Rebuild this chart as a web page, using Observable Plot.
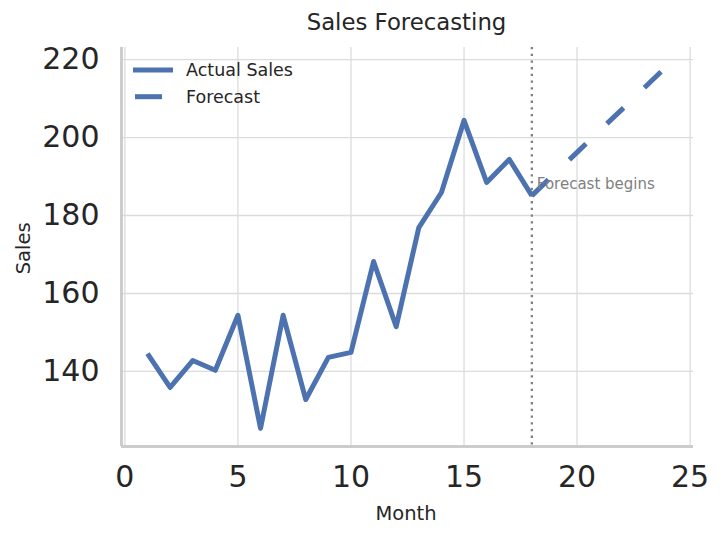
<!DOCTYPE html>
<html><head><meta charset="utf-8">
<script src="https://cdn.jsdelivr.net/npm/d3@7"></script>
<script src="https://cdn.jsdelivr.net/npm/@observablehq/plot@0.6"></script>
<style>
body{margin:0;background:#fff;}
#chart svg{font-family:"DejaVu Sans",sans-serif;display:block;}
</style>
</head><body><div id="chart"></div>
<script>
// ---- data ----
const months = [1,2,3,4,5,6,7,8,9,10,11,12,13,14,15,16,17,18];
const actualSales = [144.6,135.9,142.8,140.3,154.4,125.4,154.4,132.8,143.6,144.9,168.2,151.5,176.9,185.9,204.4,188.5,194.4,185.1];
const forecastMonths = [18,19,20,21,22,23,24];
const forecastSales = [185.1,190.7,196.2,201.8,207.3,212.9,218.5];
const xTicks = [0,5,10,15,20,25];
const yTicks = [140,160,180,200,220];
const forecastStart = 18;
const annotationX = [18];
const annotationY = [188];
const annotationLabel = ["Forecast begins"];
const xDomain = [-0.15, 25.15];
const yDomain = [120.75, 223.1];
const titleText = "Sales Forecasting";
const xLabel = "Month";
const yLabel = "Sales";
const legendLabels = ["Actual Sales", "Forecast"];

const actual = months.map((m, i) => ({month: m, sales: actualSales[i]}));
const forecast = forecastMonths.map((m, i) => ({month: m, sales: forecastSales[i]}));
const annotation = annotationX.map((x, i) => ({month: x, sales: annotationY[i], label: annotationLabel[i]}));

const blue = "#4c72b0";
const textColor = "#262626";

const plot = Plot.plot({
  width: 724,
  height: 540,
  marginLeft: 121,
  marginRight: 31,
  marginTop: 47,
  marginBottom: 94,
  style: {color: textColor, background: "#fff", fontFamily: "DejaVu Sans, sans-serif"},
  x: {domain: xDomain},
  y: {domain: yDomain},
  marks: [
    Plot.gridX(xTicks, {stroke: "#dcdcdc", strokeOpacity: 1, strokeWidth: 1.3}),
    Plot.gridY(yTicks, {stroke: "#dcdcdc", strokeOpacity: 1, strokeWidth: 1.3}),
    Plot.ruleX([xDomain[0]], {stroke: "#cccccc", strokeWidth: 3}),
    Plot.ruleY([yDomain[0]], {stroke: "#cccccc", strokeWidth: 3}),
    Plot.ruleX([forecastStart], {stroke: "#808080", strokeWidth: 2.3, strokeDasharray: "2.3,4.4"}),
    Plot.line(actual, {x: "month", y: "sales", stroke: blue, strokeWidth: 5, strokeLinejoin: "round", strokeLinecap: "butt"}),
    Plot.line(forecast, {x: "month", y: "sales", stroke: blue, strokeWidth: 5, strokeDasharray: "23,29", strokeLinecap: "butt"}),
    Plot.text(annotation, {x: "month", y: "sales", text: "label", textAnchor: "start", dx: 5, fill: "#808080", fontSize: 15}),
    Plot.axisX({ticks: xTicks, tickSize: 0, tickPadding: 19, fontSize: 30, label: null, tickFormat: d => String(d)}),
    Plot.axisY({ticks: yTicks, tickSize: 0, tickPadding: 22, fontSize: 30, label: null, tickFormat: d => String(d)})
  ]
});

document.getElementById("chart").appendChild(plot);

const svg = d3.select(plot);
svg.append("text").attr("x", 406.5).attr("y", 29.5).attr("text-anchor", "middle")
  .attr("font-size", 22.8).attr("fill", textColor).text(titleText);
svg.append("text").attr("x", 406).attr("y", 520).attr("text-anchor", "middle")
  .attr("font-size", 19.5).attr("fill", textColor).text(xLabel);
svg.append("text").attr("transform", "translate(29.5,248.3) rotate(-90)").attr("text-anchor", "middle")
  .attr("font-size", 19.5).attr("fill", textColor).text(yLabel);

// legend
const lg = svg.append("g");
lg.append("line").attr("x1", 133).attr("x2", 173).attr("y1", 70).attr("y2", 70)
  .attr("stroke", blue).attr("stroke-width", 5);
lg.append("line").attr("x1", 135).attr("x2", 173).attr("y1", 96.7).attr("y2", 96.7)
  .attr("stroke", blue).attr("stroke-width", 5).attr("stroke-dasharray", "27,29");
lg.append("text").attr("x", 186).attr("y", 70).attr("dy", "0.35em").attr("text-anchor", "start")
  .attr("font-size", 17.5).attr("fill", textColor).text(legendLabels[0]);
lg.append("text").attr("x", 186).attr("y", 96.7).attr("dy", "0.35em").attr("text-anchor", "start")
  .attr("font-size", 17.5).attr("fill", textColor).text(legendLabels[1]);
</script>
</body></html>
